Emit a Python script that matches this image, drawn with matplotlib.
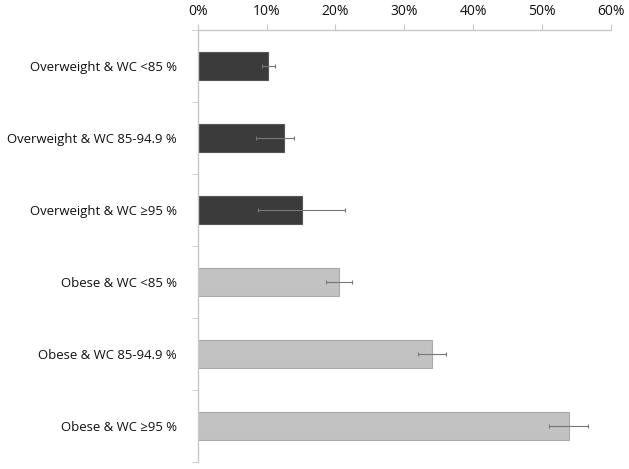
import matplotlib
matplotlib.use("Agg")
import matplotlib.pyplot as plt
import numpy as np

categories = ["Overweight & WC <85 %", "Overweight & WC 85-94.9 %", "Overweight & WC \u226595 %",
              "Obese & WC <85 %", "Obese & WC 85-94.9 %", "Obese & WC \u226595 %"]
values = [10.25, 12.5, 15.2, 20.5, 34.0, 53.9]
err_low = [0.9, 4.0, 6.4, 1.9, 2.0, 2.9]
err_high = [0.9, 1.5, 6.2, 1.9, 2.0, 2.7]
bar_colors = ["#3b3b3b", "#3b3b3b", "#3b3b3b", "#c2c2c2", "#c2c2c2", "#c2c2c2"]
edge_colors = ["#555555", "#555555", "#555555", "#aaaaaa", "#aaaaaa", "#aaaaaa"]
xticks = [0, 10, 20, 30, 40, 50, 60]

plt.rcParams['font.family'] = ['Open Sans', 'DejaVu Sans']

fig = plt.figure(figsize=(6.29, 4.69), dpi=100)
ax = fig.add_axes([0.3143, 0.0149, 0.9714 - 0.3143, 0.936 - 0.0149])

y = np.arange(len(categories))
vals = np.array(values) / 100
ax.barh(y, vals, height=0.4, color=bar_colors, edgecolor=edge_colors, linewidth=0.8, zorder=2)
ax.errorbar(vals, y, xerr=[np.array(err_low) / 100, np.array(err_high) / 100], fmt='none',
            ecolor="#777777", elinewidth=0.8, capsize=1.5, capthick=0.8, zorder=3)

ax.set_xlim(0, 0.6)
ax.set_ylim(len(categories) - 0.5, -0.5)
ax.xaxis.tick_top()
ax.set_xticks(np.array(xticks) / 100)
ax.set_xticklabels([f"{t}%" for t in xticks], fontsize=10, color="#111111")
ax.tick_params(axis='x', direction='out', length=4, color="#c8c8c8", pad=4)

ax.set_yticks(y)
ax.set_yticklabels(categories, fontsize=9.45, color="#111111")
ax.tick_params(axis='y', which='major', length=0, pad=15)
ax.set_yticks(np.arange(-0.5, len(categories) + 0.5, 1), minor=True)
ax.tick_params(axis='y', which='minor', direction='out', length=4, color="#c8c8c8")

for s in ['right', 'bottom']:
    ax.spines[s].set_visible(False)
for s in ['top', 'left']:
    ax.spines[s].set_color("#c8c8c8")
    ax.spines[s].set_linewidth(1.0)

fig.savefig("out.png", dpi=100)
